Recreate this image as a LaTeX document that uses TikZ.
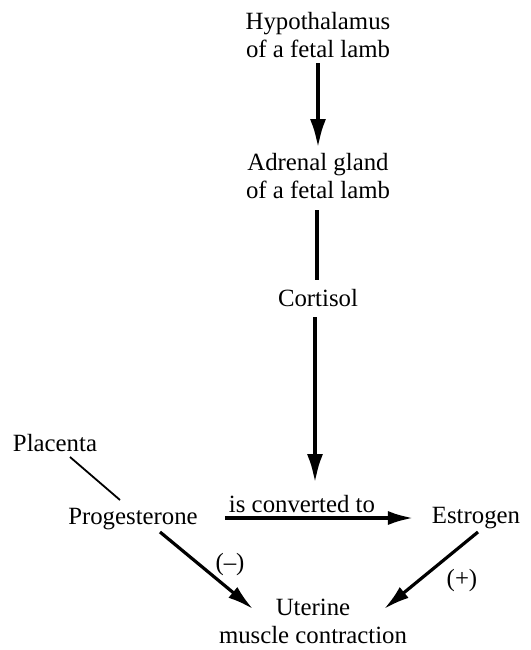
\documentclass[tikz,border=0pt]{standalone}
\usepackage{fontspec}
\setmainfont{Liberation Serif}
\usetikzlibrary{arrows.meta}
\tikzset{
  lbl/.style={align=center, inner sep=1pt, font=\fontsize{12.4}{14}\selectfont},
  bigarrow/.style={-{Latex[length=15pt, width=8pt]}, line width=2.4pt},
  arrow/.style={-{Latex[length=13pt, width=7pt]}, line width=1.6pt},
  link/.style={line width=2.4pt},
  thinlink/.style={line width=0.9pt}
}
\begin{document}
\begin{tikzpicture}[x=0.5pt, y=-0.5pt]
  \useasboundingbox (0,0) rectangle (531,650);
  % upper chain
  \node[lbl] (hypo) at (318,35) {Hypothalamus\\of a fetal lamb};
  \node[lbl] (adrenal) at (318,176) {Adrenal gland\\of a fetal lamb};
  \node[lbl] (cortisol) at (318,298) {Cortisol};
  % lower part
  \node[lbl] (placenta) at (55,443) {Placenta};
  \node[lbl] (prog) at (133,519) {Progesterone};
  \node[lbl] (estro) at (476,518) {Estrogen};
  \node[lbl] (uterus) at (313,621) {Uterine\\muscle contraction};
  \draw[bigarrow] (318,63) -- (318,149);
  \draw[link] (317,210) -- (317,280);
  \draw[bigarrow] (315,317) -- (315,484);
  \draw[thinlink] (70,457) -- (120,500);
  \draw[arrow, line width=2pt] (225,518) -- (414,518);
  \node[lbl] (conv) at (302,504) {is converted to};
  \draw[arrow] (160,532) -- (253,609);
  \node[lbl] (minus) at (230,565) {(\textendash)};
  \draw[arrow] (478,532) -- (384,609);
  \node[lbl] (plus) at (462,581) {(+)};
\end{tikzpicture}
\end{document}
